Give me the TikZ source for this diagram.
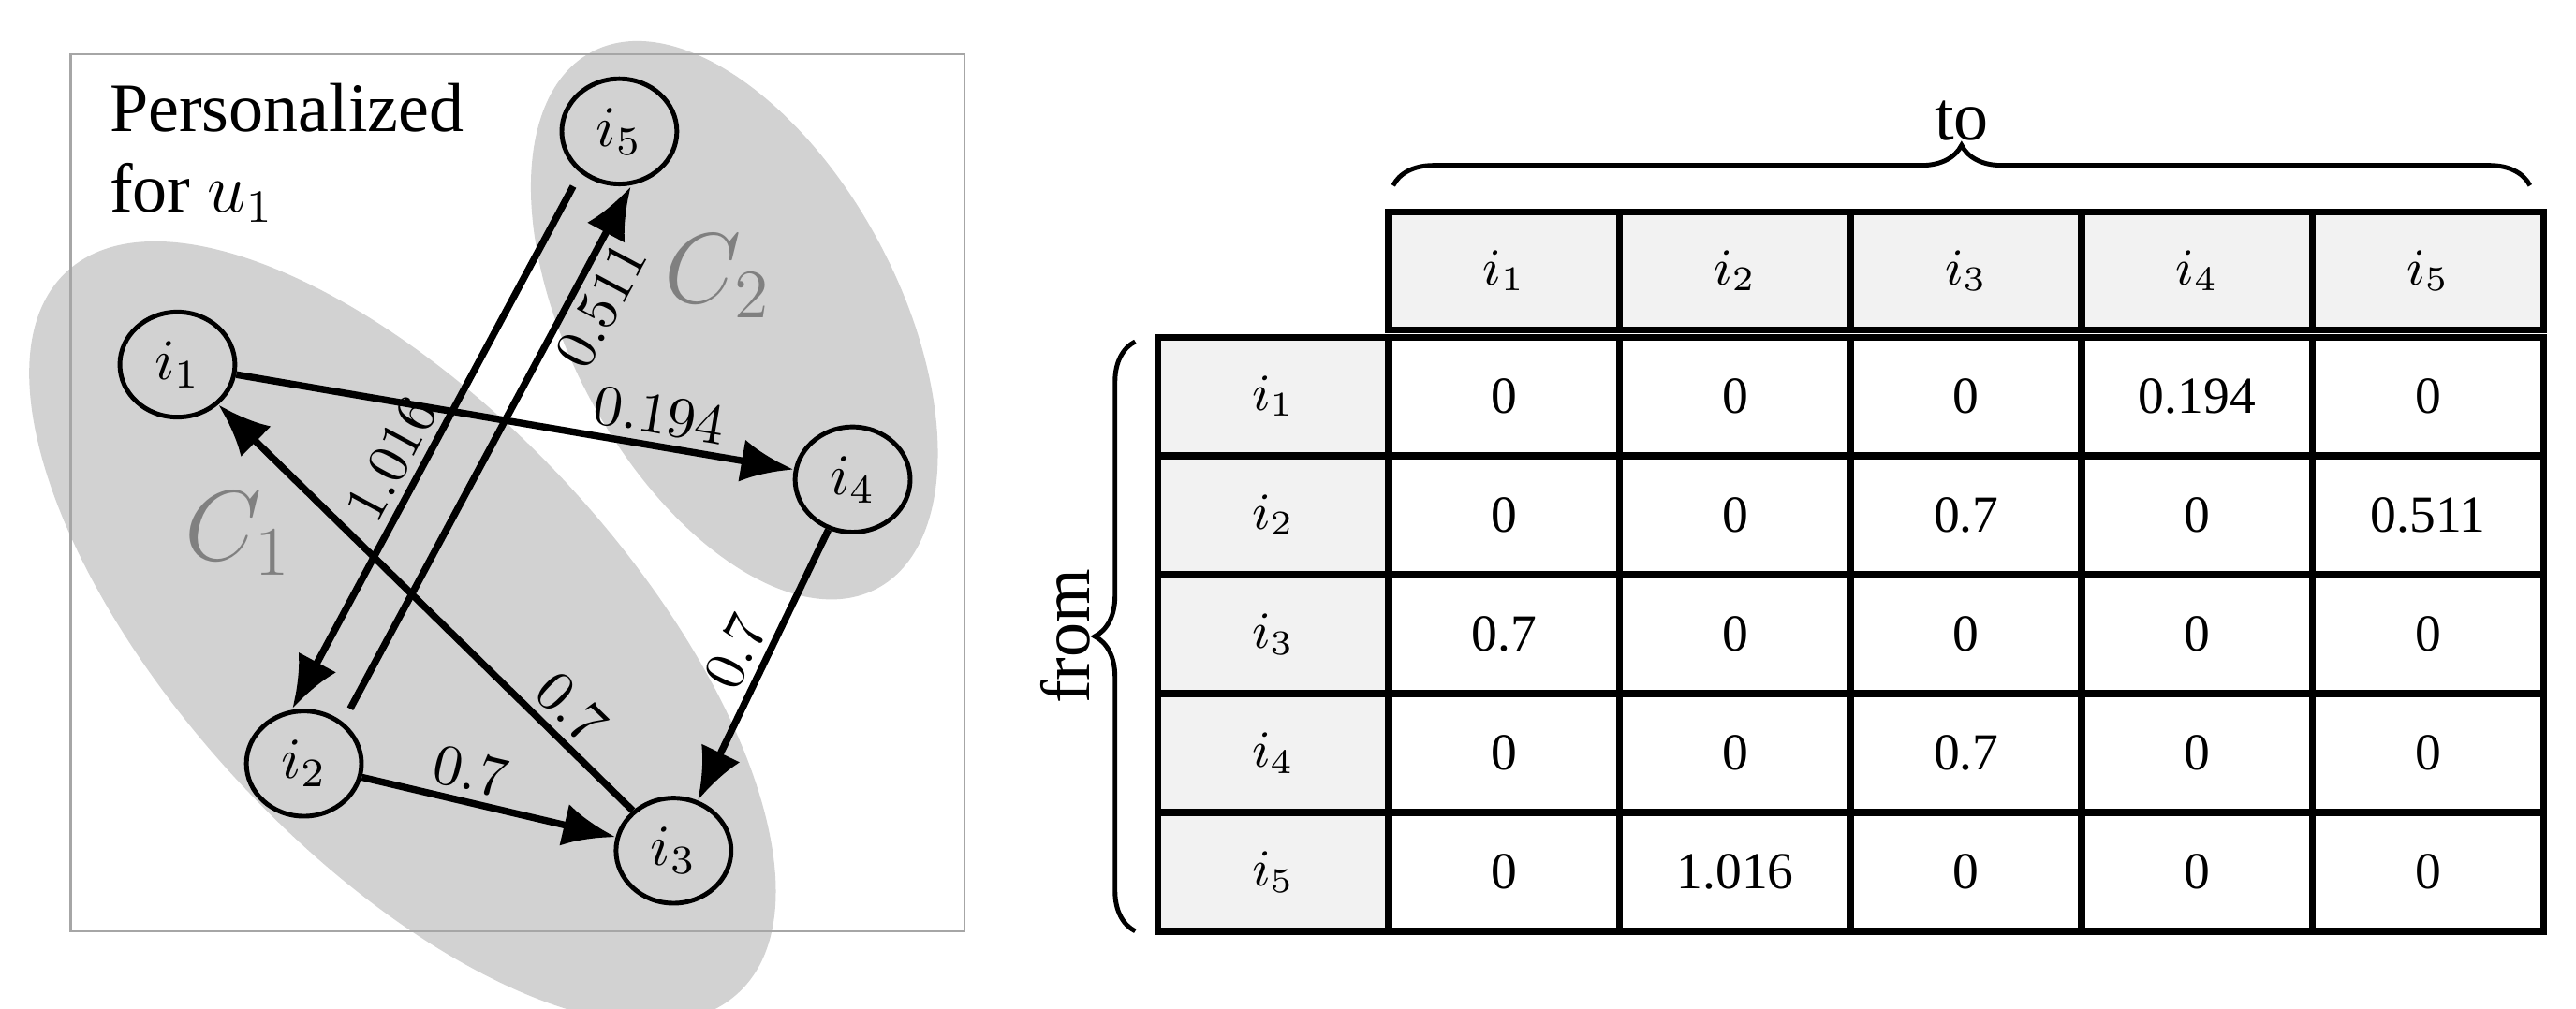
\documentclass[tikz,border=0pt]{standalone}
\usepackage{fontspec}
\setmainfont{Liberation Serif}
\usetikzlibrary{arrows.meta,decorations.pathreplacing,shapes.geometric}

\tikzset{
  item/.style={draw,thick,ellipse,minimum width=7mm,minimum height=6.4mm,inner sep=0,font=\normalsize},
  link/.style={very thick,-{Latex[length=3.2mm,width=2.6mm]}},
  weight/.style={font=\normalsize,sloped,inner sep=1.5pt},
  cell/.style={draw,very thick,minimum width=14.05mm,minimum height=7.2mm,inner sep=0,font=\small},
  head/.style={cell,fill=gray!10}
}

\begin{document}
\begin{tikzpicture}[x=0.01cm,y=-0.01cm]
  \useasboundingbox (0,0) rectangle (1568,614);
  % clusters
  \fill[gray!35] (245,385) ellipse [x radius=300,y radius=135,rotate=-47];
  \fill[gray!35] (447,195) ellipse [x radius=185,y radius=100,rotate=-62];
  \draw[gray!70] (43,33) rectangle (587,567);
  \node[anchor=north west,align=left,font=\large,inner sep=0] (title) at (66,50) {Personalized\\for $u_1$};
  \node[text=gray,font=\LARGE] (c1) at (145,325) {$C_1$};
  \node[text=gray,font=\LARGE] (c2) at (437,168) {$C_2$};
  % items
  \node[item] (i5) at (377,80) {$i_5$};
  \node[item] (i1) at (108,222) {$i_1$};
  \node[item] (i4) at (519,292) {$i_4$};
  \node[item] (i2) at (185,465) {$i_2$};
  \node[item] (i3) at (410,518) {$i_3$};
  % weighted links
  \draw[link] (i1) -- node[weight,above,pos=0.75] {$0.194$} (i4);
  \draw[link] ([xshift=-8]i5.south) -- node[weight,above,pos=0.55] {$1.016$} ([xshift=-2]i2.north);
  \draw[link] ([xshift=8]i2.north) -- node[weight,below,pos=0.8] {$0.511$} ([xshift=2]i5.south);
  \draw[link] (i3) -- node[weight,above,pos=0.2] {$0.7$} (i1);
  \draw[link] (i2) -- node[weight,above,pos=0.4] {$0.7$} (i3);
  \draw[link] (i4) -- node[weight,above] {$0.7$} (i3);
  % matrix
  \foreach \c in {1,...,5}
    \node[head] (h\c) at ({775+140.6*\c},165) {$i_{\c}$};
  \foreach \r/\vals [count=\k] in {1/{0,0,0,0.194,0},2/{0,0,0.7,0,0.511},3/{0.7,0,0,0,0},4/{0,0,0.7,0,0},5/{0,1.016,0,0,0}}{
    \node[head] (r\r) at (775,{169+72.4*\r}) {$i_{\r}$};
    \foreach \v [count=\c] in \vals
      \node[cell] (m\r\c) at ({775+140.6*\c},{169+72.4*\r}) {\v};
  }
  \coordinate (tl) at (848,113);
  \coordinate (tr) at (1540,113);
  \draw[thick,decorate,decoration={brace,amplitude=7}] (tl) -- node[above=4,font=\large] (to) {to} (tr);
  \coordinate (fb) at (691,567);
  \coordinate (ft) at (691,208);
  \draw[thick,decorate,decoration={brace,amplitude=7}] (fb) -- node[above=4,sloped,font=\large] (from) {from} (ft);
\end{tikzpicture}
\end{document}
